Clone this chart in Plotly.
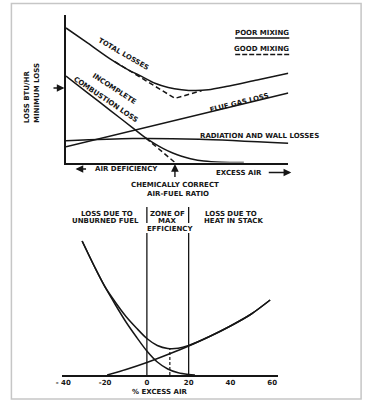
import plotly.graph_objects as go

W, H = 367, 404

# ---------------- upper diagram (relative units: air 0-100, loss 0-100) ----------------
total_poor_x = [0, 10, 20, 28, 34, 40, 46, 52, 58, 64, 72, 86, 100]
total_poor_y = [91.2, 80.7, 70.1, 62.8, 58.4, 53.7, 50.9, 49.4, 48.8, 49.3, 51.5, 56.0, 60.5]
total_good_x = [22, 49, 61]
total_good_y = [68.3, 43.5, 48.7]
incomplete_poor_x = [0, 10, 20, 30, 36, 40, 44, 48, 52, 56, 62, 70, 80]
incomplete_poor_y = [58.6, 46.9, 35.2, 23.5, 16.5, 12.6, 9.2, 6.4, 4.2, 2.6, 1.0, 0.2, 0.0]
incomplete_good_x = [36, 49]
incomplete_good_y = [16.5, 0.0]
flue_x = [0, 100]
flue_y = [10.6, 47.1]
radiation_x = [0, 30, 60, 100]
radiation_y = [14.8, 16.3, 15.8, 13.0]
min_loss_level = 50.5
stoich_x = 49

# ---------------- lower diagram (% excess air vs loss) ----------------
tick_vals = [-40, -20, 0, 20, 40, 60]
tick_text = ["- 40", "-20", "0", "20", "40", "60"]
unburned_x = [-31, -25, -20, -15, -10, -5, 0, 5, 10, 15, 20, 23]
unburned_y = [134, 108, 88, 70, 53, 38, 24, 13, 6, 2.2, 0.5, 0]
stack_x = [-19, -10, 0, 10, 20, 30, 40, 50, 59]
stack_y = [0, 5.5, 12.5, 20.5, 29, 38.5, 49, 61, 75]
total_x = [-31, -25, -20, -15, -10, -5, 0, 5, 10, 15, 20, 30, 40, 50, 59]
total_y = [134, 108, 88, 72.5, 58.5, 47, 36.5, 29.5, 26.5, 26.7, 29.5, 38.5, 49, 61, 75]
zone_bounds = [0, 20]
optimum_x = 11
optimum_y = 26.4

INK = "#161616"
FONT = "DejaVu Sans"

def px(x):
    return x / W

def py(y):
    return 1 - y / H

fig = go.Figure()

def line(x, y, xa="x", ya="y", dash="solid", width=1.5, shape="spline"):
    fig.add_trace(go.Scatter(x=x, y=y, mode="lines", xaxis=xa, yaxis=ya,
                             line=dict(color=INK, width=width, dash=dash, shape=shape, smoothing=0.8),
                             hoverinfo="skip", showlegend=False))

# upper
line(total_poor_x, total_poor_y)
line(total_good_x, total_good_y, dash="5px,3px", shape="linear")
line(incomplete_poor_x, incomplete_poor_y)
line(incomplete_good_x, incomplete_good_y, dash="5px,3px", shape="linear")
line(flue_x, flue_y, shape="linear")
line(radiation_x, radiation_y)

# lower
line(unburned_x, unburned_y, "x2", "y2")
line(stack_x, stack_y, "x2", "y2")
line(total_x, total_y, "x2", "y2")
for zb in zone_bounds:
    line([zb, zb], [0, 142], "x2", "y2", width=1.3, shape="linear")
    line([zb, zb], [152, 168], "x2", "y2", width=1.3, shape="linear")
line([optimum_x, optimum_x], [0, optimum_y], "x2", "y2", dash="3px,2px", width=1.2, shape="linear")

ann = []

def txt(s, x, y, angle=0, size=7):
    ann.append(dict(text="<b>" + s + "</b>", x=px(x), y=py(y), xref="paper", yref="paper",
                    showarrow=False, textangle=angle, xanchor="center", yanchor="middle",
                    font=dict(family=FONT, size=size, color=INK)))

txt("TOTAL LOSSES", 119, 54, 30)
txt("INCOMPLETE", 110, 89, 33)
txt("COMBUSTION LOSS", 102, 99.5, 34)
txt("FLUE GAS LOSS", 237, 103, -14)
txt("RADIATION AND WALL LOSSES", 258, 136)
txt("POOR MIXING", 260, 33)
txt("GOOD MIXING", 260, 48.5)
txt("AIR DEFICIENCY", 122.5, 169)
txt("EXCESS AIR", 237, 172.5)
txt("CHEMICALLY CORRECT", 172, 185)
txt("AIR-FUEL RATIO", 175, 194)
txt("LOSS BTU/HR", 21.5, 97, -90)
txt("MINIMUM LOSS", 31.5, 93, -90)
txt("LOSS DUE TO", 102.5, 214)
txt("UNBURNED FUEL", 101, 220.5)
txt("ZONE OF", 164, 213.5)
txt("MAX", 164, 221)
txt("EFFICIENCY", 166.5, 229)
txt("LOSS DUE TO", 229, 213.5)
txt("HEAT IN STACK", 231, 221)
txt("% EXCESS AIR", 157, 392)

arrow_common = dict(text="", showarrow=True, arrowhead=2, arrowsize=1.1, arrowwidth=1.4, arrowcolor=INK)
ann.append(dict(x=0, y=min_loss_level, xref="x", yref="y", ax=-14, ay=0, standoff=1.5, **arrow_common))
ann.append(dict(x=stoich_x, y=0, xref="x", yref="y", ax=0, ay=16, standoff=1.5, **arrow_common))
ann.append(dict(x=px(70.7), y=py(169), xref="paper", yref="paper", ax=12, ay=0, **arrow_common))
ann.append(dict(x=px(290), y=py(172.5), xref="paper", yref="paper", ax=-24, ay=0, **arrow_common))

shapes = [
    dict(type="rect", xref="paper", yref="paper", x0=px(5.5), x1=px(361), y0=py(399), y1=py(3.5),
         line=dict(color="#c6c6c6", width=1.5)),
    dict(type="line", xref="paper", yref="paper", x0=px(233), x1=px(288), y0=py(38), y1=py(38),
         line=dict(color=INK, width=1.4)),
    dict(type="line", xref="paper", yref="paper", x0=px(233), x1=px(288), y0=py(54.5), y1=py(54.5),
         line=dict(color=INK, width=1.4, dash="5px,2px")),
]

axis_off = dict(showgrid=False, zeroline=False, ticks="", showticklabels=False)

fig.update_layout(
    width=W, height=H, autosize=False,
    margin=dict(l=0, r=0, t=0, b=0),
    paper_bgcolor="white", plot_bgcolor="white",
    showlegend=False,
    xaxis=dict(domain=[px(61), px(287)], range=[0, 100], showline=True, linecolor=INK, linewidth=1.5, **axis_off),
    yaxis=dict(domain=[py(162.5), py(15)], range=[0, 100], showline=True, linecolor=INK, linewidth=1.5, **axis_off),
    xaxis2=dict(domain=[px(57), px(277)], range=[-40.6, 63], anchor="y2", showline=True, linecolor=INK,
                linewidth=1.5, showgrid=False, zeroline=False, ticks="",
                tickvals=tick_vals, ticktext=["<b>" + t + "</b>" for t in tick_text],
                tickfont=dict(family=FONT, size=7, color=INK)),
    yaxis2=dict(domain=[py(375), py(205)], range=[0, 170], anchor="x2", visible=False),
    annotations=ann,
    shapes=shapes,
)

fig.write_html("out.html", config={"displayModeBar": False},
               post_script="document.body.style.margin='0';document.body.style.overflow='hidden';")
